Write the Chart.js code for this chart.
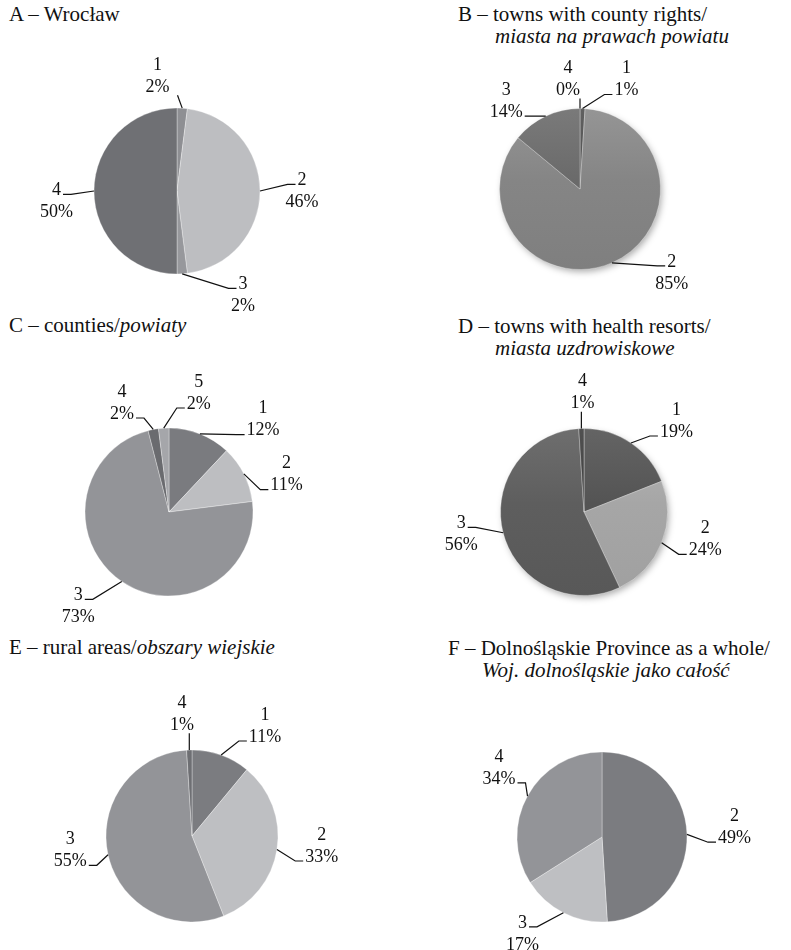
<!DOCTYPE html>
<html>
<head>
<meta charset="utf-8">
<script src="https://cdn.jsdelivr.net/npm/chart.js@4.4.1/dist/chart.umd.min.js"></script>
<style>
  html, body { margin: 0; padding: 0; background: #fff; }
  body {
    width: 791px; height: 950px; position: relative; overflow: hidden;
    font-family: "Liberation Serif", "Times New Roman", serif; color: #111;
  }
  .title { position: absolute; font-size: 21px; line-height: 22px; white-space: nowrap; }
  .title i { font-style: italic; }
  canvas { position: absolute; }
</style>
</head>
<body>
<div class="title" style="left:9px;top:3px">A – Wrocław</div>
<div class="title" style="left:458px;top:3px">B – towns with county rights/<br><i style="margin-left:37px">miasta na prawach powiatu</i></div>
<div class="title" style="left:9px;top:314px">C – counties/<i>powiaty</i></div>
<div class="title" style="left:458px;top:315px">D – towns with health resorts/<br><i style="margin-left:37px">miasta uzdrowiskowe</i></div>
<div class="title" style="left:9px;top:636px">E – rural areas/<i>obszary wiejskie</i></div>
<div class="title" style="left:448px;top:637px">F – Dolnośląskie Province as a whole/<br><i style="margin-left:34px">Woj. dolnośląskie jako całość</i></div>

<canvas id="pieA" width="360" height="310"></canvas>
<canvas id="pieB" width="360" height="310"></canvas>
<canvas id="pieC" width="360" height="310"></canvas>
<canvas id="pieD" width="360" height="310"></canvas>
<canvas id="pieE" width="360" height="310"></canvas>
<canvas id="pieF" width="360" height="310"></canvas>

<script>
// Values (percent shares)
const catA = ['1', '2', '3', '4'];
const valA = [2, 46, 2, 50];
const catB = ['1', '2', '3', '4'];
const valB = [1, 85, 14, 0];
const catC = ['1', '2', '3', '4', '5'];
const valC = [12, 11, 73, 2, 2];
const catD = ['1', '2', '3', '4'];
const valD = [19, 24, 56, 1];
const catE = ['1', '2', '3', '4'];
const valE = [11, 33, 55, 1];
const catF = ['2', '3', '4'];
const valF = [49, 17, 34];

const LABEL_FONT = '18px "Liberation Serif", "Times New Roman", serif';
const LINE = 22;

// Layout: pie centre, radius, slice colours, label placement [dx, dy, leader side, leader line]
const panels = [
  { id: 'pieA', cats: catA, vals: valA, cx: 177, cy: 191, r: 83,
    colors: ['#8e8f93', '#bdbec1', '#97989c', '#6f7074'],
    place: [[-19.5, -125.7, 'B', 1], [125, -10.7, 'L', 0], [66, 93.3, 'L', 0], [-120.5, -0.7, 'R', 0]] },
  { id: 'pieB', cats: catB, vals: valB, cx: 580, cy: 189, r: 80.5, shadow: true,
    colors: ['#505050', '#858585', '#6a6a6a', '#3a3a3a'],
    place: [[46.4, -120.5, 'L', 1], [91.7, 72.9, 'L', 0], [-73.8, -98.8, 'R', 1], [-12, -120.5, 'B', 1]] },
  { id: 'pieC', cats: catC, vals: valC, cx: 169, cy: 512, r: 84,
    colors: ['#7a7b7f', '#bdbec1', '#939498', '#6a6b6f', '#a5a6aa'],
    place: [[94.1, -103.4, 'L', 1], [117.5, -48.4, 'L', 1], [-90.7, 83.3, 'R', 0], [-47, -120, 'R', 1], [29.8, -130, 'L', 1]] },
  { id: 'pieD', cats: catD, vals: valD, cx: 584, cy: 512, r: 83.5, shadow: true,
    colors: ['#545454', '#a6a6a6', '#5e5e5e', '#404040'],
    place: [[92.4, -102, 'L', 1], [121.2, 16.3, 'L', 1], [-122.8, 11.3, 'R', 0], [-1.6, -130.3, 'B', 1]] },
  { id: 'pieE', cats: catE, vals: valE, cx: 192, cy: 836, r: 86,
    colors: ['#7b7c80', '#bebfc2', '#939498', '#6e6f73'],
    place: [[73, -121, 'L', 1], [129.7, -1, 'L', 1], [-121.7, 3.3, 'R', 1], [-10, -132.7, 'B', 1]] },
  { id: 'pieF', cats: catF, vals: valF, cx: 602, cy: 837, r: 85,
    colors: ['#7b7c80', '#bebfc2', '#939498'],
    place: [[132.5, -20.8, 'L', 1], [-79.5, 85.8, 'R', 0], [-103, -80.2, 'R', 1]] },
];

function shade(hex, d) {
  const n = parseInt(hex.slice(1), 16);
  const c = [n >> 16, (n >> 8) & 255, n & 255].map(function (v) {
    return Math.max(0, Math.min(255, v + d));
  });
  return 'rgb(' + c.join(',') + ')';
}

// soft drop shadow under the pie (used for B and D)
const shadowPlugin = {
  id: 'pieShadow',
  beforeDatasetsDraw(chart, args, opts) {
    if (!opts.on) return;
    const arc = chart.getDatasetMeta(0).data[0];
    if (!arc) return;
    const { x, y, outerRadius } = arc.getProps(['x', 'y', 'outerRadius'], true);
    const ctx = chart.ctx;
    ctx.save();
    ctx.shadowColor = 'rgba(0,0,0,0.35)';
    ctx.shadowBlur = 7;
    ctx.shadowOffsetX = 2;
    ctx.shadowOffsetY = 3;
    ctx.beginPath();
    ctx.arc(x, y, outerRadius - 1, 0, Math.PI * 2);
    ctx.fillStyle = '#808080';
    ctx.fill();
    ctx.restore();
  }
};

// category / percent labels with leader lines
const leaderLabels = {
  id: 'leaderLabels',
  afterDatasetsDraw(chart, args, opts) {
    const ctx = chart.ctx;
    const meta = chart.getDatasetMeta(0);
    const cats = chart.data.labels;
    const vals = chart.data.datasets[0].data;
    ctx.save();
    ctx.font = LABEL_FONT;
    ctx.fillStyle = '#111';
    ctx.strokeStyle = '#111';
    ctx.lineWidth = 1.2;
    ctx.textAlign = 'center';
    ctx.textBaseline = 'middle';
    meta.data.forEach(function (arc, i) {
      const p = arc.getProps(['x', 'y', 'startAngle', 'endAngle', 'outerRadius'], true);
      const mid = (p.startAngle + p.endAngle) / 2;
      const sx = p.x + Math.cos(mid) * p.outerRadius;
      const sy = p.y + Math.sin(mid) * p.outerRadius;
      const pl = opts.place[i];
      const lx = p.x + pl[0];
      const ly = p.y + pl[1];
      const name = cats[i];
      const pct = vals[i] + '%';
      const nameW = ctx.measureText(name).width;
      const pctW = ctx.measureText(pct).width;
      ctx.fillText(name, lx, ly);
      ctx.fillText(pct, lx, ly + LINE);

      const ty = ly + pl[3] * LINE + 4;
      const w = pl[3] ? pctW : nameW;
      ctx.beginPath();
      ctx.moveTo(sx, sy);
      if (pl[2] === 'L') {
        const ex = lx - w / 2 - 2;
        ctx.lineTo(ex - 8, ty);
        ctx.lineTo(ex, ty);
      } else if (pl[2] === 'R') {
        const ex = lx + w / 2 + 2;
        ctx.lineTo(ex + 8, ty);
        ctx.lineTo(ex, ty);
      } else {
        const bx = Math.min(Math.max(sx, lx - pctW / 2), lx + pctW / 2 + 8);
        ctx.lineTo(bx, ly + LINE + 8);
      }
      ctx.stroke();
    });
    ctx.restore();
  }
};

panels.forEach(function (pn) {
  const canvas = document.getElementById(pn.id);
  canvas.style.left = (pn.cx - canvas.width / 2) + 'px';
  canvas.style.top = (pn.cy - canvas.height / 2) + 'px';

  // B and D are drawn with a soft top-lit gradient in the original
  const fill = pn.shadow
    ? function (c) {
        const base = pn.colors[c.dataIndex];
        const area = c.chart.chartArea;
        if (!area) return base;
        const midY = (area.top + area.bottom) / 2;
        const g = c.chart.ctx.createLinearGradient(0, midY - pn.r, 0, midY + pn.r);
        g.addColorStop(0, shade(base, 16));
        g.addColorStop(0.45, base);
        g.addColorStop(1, shade(base, -6));
        return g;
      }
    : pn.colors;

  new Chart(canvas.getContext('2d'), {
    type: 'pie',
    data: {
      labels: pn.cats,
      datasets: [{
        data: pn.vals,
        backgroundColor: fill,
        borderColor: 'rgba(255,255,255,0.45)',
        borderWidth: 0.7,
        radius: pn.r,
      }],
    },
    options: {
      responsive: false,
      animation: false,
      layout: { padding: 0 },
      plugins: {
        legend: { display: false },
        tooltip: { enabled: false },
        title: { display: false },
        pieShadow: { on: !!pn.shadow },
        leaderLabels: { place: pn.place },
      },
    },
    plugins: [shadowPlugin, leaderLabels],
  });
});
</script>
</body>
</html>
